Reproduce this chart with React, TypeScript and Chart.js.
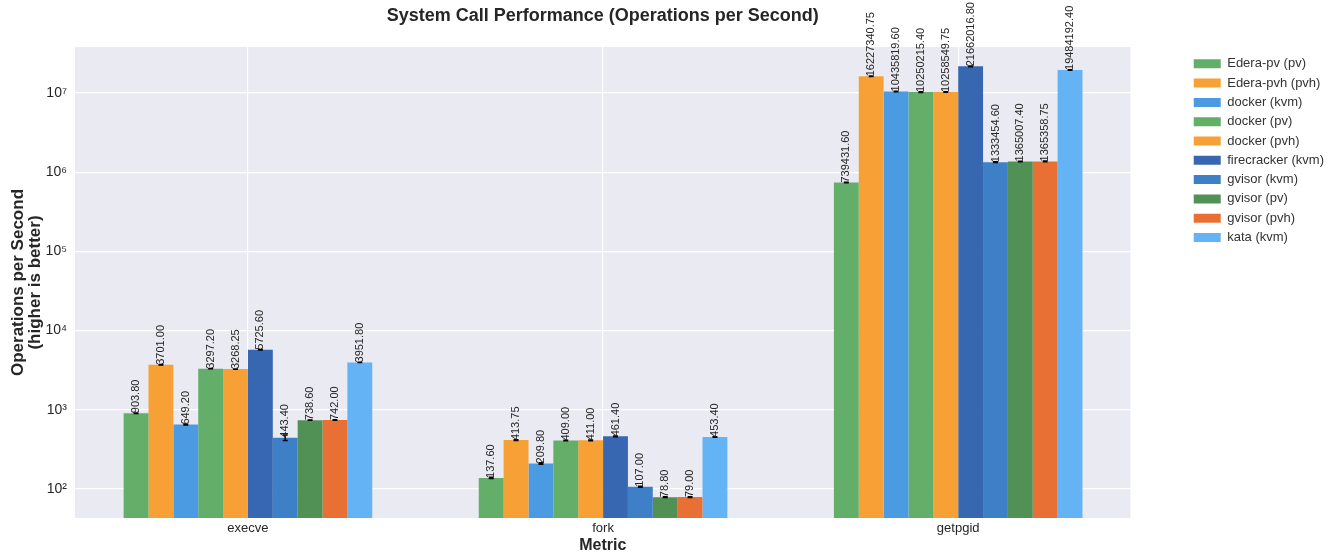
import React, { useEffect, useRef } from "react";
import { Chart, registerables } from "chart.js";

Chart.register(...registerables);

const categories = ["execve", "fork", "getpgid"];
const seriesNames = [
  "Edera-pv (pv)",
  "Edera-pvh (pvh)",
  "docker (kvm)",
  "docker (pv)",
  "docker (pvh)",
  "firecracker (kvm)",
  "gvisor (kvm)",
  "gvisor (pv)",
  "gvisor (pvh)",
  "kata (kvm)",
];
const seriesColors = [
  "#63ae68",
  "#f7a035",
  "#4b9be3",
  "#63ae68",
  "#f7a035",
  "#3767b0",
  "#3e80c8",
  "#529156",
  "#e87035",
  "#64b3f4",
];

// values per series: [execve, fork, getpgid]
const ederaPv = [903.8, 137.6, 739431.6];
const ederaPvh = [3701.0, 413.75, 16227340.75];
const dockerKvm = [649.2, 209.8, 10435819.6];
const dockerPv = [3297.2, 409.0, 10250215.4];
const dockerPvh = [3268.25, 411.0, 10258549.75];
const firecrackerKvm = [5725.6, 461.4, 21662016.8];
const gvisorKvm = [443.4, 107.0, 1333454.6];
const gvisorPv = [738.6, 78.8, 1365007.4];
const gvisorPvh = [742.0, 79.0, 1365358.75];
const kataKvm = [3951.8, 453.4, 19484192.4];

// error (std) per series: [execve, fork, getpgid]
const ederaPvErr = [6, 2.5, 6000];
const ederaPvhErr = [15, 4, 150000];
const dockerKvmErr = [8, 4, 90000];
const dockerPvErr = [15, 4, 90000];
const dockerPvhErr = [12, 4, 90000];
const firecrackerKvmErr = [25, 4, 200000];
const gvisorKvmErr = [35, 1.5, 15000];
const gvisorPvErr = [4, 1, 12000];
const gvisorPvhErr = [4, 1, 12000];
const kataKvmErr = [15, 4, 150000];

const seriesValues = [
  ederaPv, ederaPvh, dockerKvm, dockerPv, dockerPvh,
  firecrackerKvm, gvisorKvm, gvisorPv, gvisorPvh, kataKvm,
];
const seriesErrors = [
  ederaPvErr, ederaPvhErr, dockerKvmErr, dockerPvErr, dockerPvhErr,
  firecrackerKvmErr, gvisorKvmErr, gvisorPvErr, gvisorPvhErr, kataKvmErr,
];

const yTickValues = [1e2, 1e3, 1e4, 1e5, 1e6, 1e7];
const supers: Record<string, string> = {
  "0": "\u2070", "1": "\u00B9", "2": "\u00B2", "3": "\u00B3", "4": "\u2074",
  "5": "\u2075", "6": "\u2076", "7": "\u2077", "8": "\u2078", "9": "\u2079",
};

const FONT = "'Liberation Sans', Arial, 'DejaVu Sans', sans-serif";
const TEXT = "#262626";

const overlayPlugin = {
  id: "overlay",
  beforeDraw(chart: any) {
    const { ctx, chartArea } = chart;
    ctx.save();
    ctx.fillStyle = "#eaeaf2";
    ctx.fillRect(chartArea.left, chartArea.top, chartArea.right - chartArea.left, chartArea.bottom - chartArea.top);
    ctx.restore();
  },
  afterDatasetsDraw(chart: any) {
    const { ctx } = chart;
    const yScale = chart.scales.y;
    chart.data.datasets.forEach((ds: any, di: number) => {
      const meta = chart.getDatasetMeta(di);
      meta.data.forEach((bar: any, i: number) => {
        const v = seriesValues[di][i];
        const e = seriesErrors[di][i];
        const x = bar.x;
        const yHi = yScale.getPixelForValue(v + e);
        const yLo = yScale.getPixelForValue(v - e);
        ctx.save();
        ctx.strokeStyle = "#000";
        ctx.lineWidth = 1.5;
        ctx.beginPath();
        ctx.moveTo(x, yLo);
        ctx.lineTo(x, yHi);
        ctx.moveTo(x - 2.5, yLo);
        ctx.lineTo(x + 2.5, yLo);
        ctx.moveTo(x - 2.5, yHi);
        ctx.lineTo(x + 2.5, yHi);
        ctx.stroke();
        ctx.translate(x, bar.y);
        ctx.rotate(-Math.PI / 2);
        ctx.fillStyle = TEXT;
        ctx.font = `11px ${FONT}`;
        ctx.textAlign = "left";
        ctx.textBaseline = "middle";
        ctx.fillText(v.toFixed(2), 0, 0);
        ctx.restore();
      });
    });
  },
};

export default function App() {
  const ref = useRef<HTMLCanvasElement | null>(null);

  useEffect(() => {
    if (!ref.current) return;
    const datasets = seriesNames.map((name, si) => ({
      label: name,
      data: seriesValues[si].map((v, ci) => ({ x: ci, y: v })),
      backgroundColor: seriesColors[si],
      borderWidth: 0,
      barPercentage: 1,
      categoryPercentage: 0.7,
      xAxisID: "x",
      yAxisID: "y",
    }));

    const chart = new Chart(ref.current, {
      type: "bar",
      data: { datasets },
      plugins: [overlayPlugin],
      options: {
        animation: false,
        responsive: true,
        maintainAspectRatio: false,
        layout: { padding: { left: 0, right: 9, top: 0, bottom: 0 } },
        plugins: {
          tooltip: { enabled: false },
          title: {
            display: true,
            text: "System Call Performance (Operations per Second)",
            fullSize: false,
            color: TEXT,
            font: { family: FONT, size: 18, weight: "bold", lineHeight: 1.2 },
            padding: { top: 5, bottom: 20.4 },
          },
          legend: {
            display: true,
            position: "right",
            align: "start",
            title: {
              display: true,
              text: "",
              font: { size: 10, lineHeight: 1 },
              padding: { top: 41, bottom: 0 },
            },
            labels: {
              boxWidth: 27,
              boxHeight: 9,
              padding: 6.3,
              color: "#333333",
              font: { family: FONT, size: 13 },
            },
          },
        },
        scales: {
          x: {
            type: "linear",
            position: "bottom",
            offset: false,
            min: -0.487,
            max: 2.485,
            afterBuildTicks: (s: any) => {
              s.ticks = categories.map((_, i) => ({ value: i }));
            },
            afterFit: (s: any) => {
              s.height = 40;
            },
            ticks: {
              color: TEXT,
              font: { family: FONT, size: 13 },
              padding: 2.5,
              autoSkip: false,
              maxRotation: 0,
              callback: (v: any) => categories[v] ?? "",
            },
            grid: { color: "#ffffff", lineWidth: 1.2, drawTicks: false, offset: false },
            border: { display: false },
            title: {
              display: true,
              text: "Metric",
              color: TEXT,
              font: { family: FONT, size: 16, weight: "bold", lineHeight: 1.2 },
              padding: { top: 0, bottom: 2.4 },
            },
          },
          y: {
            type: "logarithmic",
            position: "left",
            min: 43,
            max: 3.8e7,
            afterBuildTicks: (s: any) => {
              s.ticks = yTickValues.map((v) => ({ value: v }));
            },
            afterFit: (s: any) => {
              s.width = 75;
            },
            ticks: {
              color: TEXT,
              font: { family: FONT, size: 14 },
              padding: 8,
              callback: (v: any) => {
                const exp = String(Math.round(Math.log10(Number(v))));
                return "10" + exp.split("").map((c) => supers[c]).join("");
              },
            },
            grid: { color: "#ffffff", lineWidth: 1.2, drawTicks: false },
            border: { display: false },
            title: {
              display: true,
              text: ["Operations per Second", "(higher is better)"],
              color: TEXT,
              font: { family: FONT, size: 17, weight: "bold", lineHeight: 1.0 },
              padding: { top: 9.5, bottom: 0 },
            },
          },
          yPad: {
            type: "linear",
            axis: "y",
            position: "right",
            display: true,
            afterFit: (s: any) => {
              s.width = 57;
            },
            ticks: { display: false },
            grid: { display: false, drawTicks: false },
            border: { display: false },
          },
        },
      } as any,
    });
    return () => chart.destroy();
  }, []);

  return (
    <div style={{ position: "absolute", left: 0, top: 0, width: 1343, height: 558 }}>
      <canvas ref={ref} />
    </div>
  );
}
